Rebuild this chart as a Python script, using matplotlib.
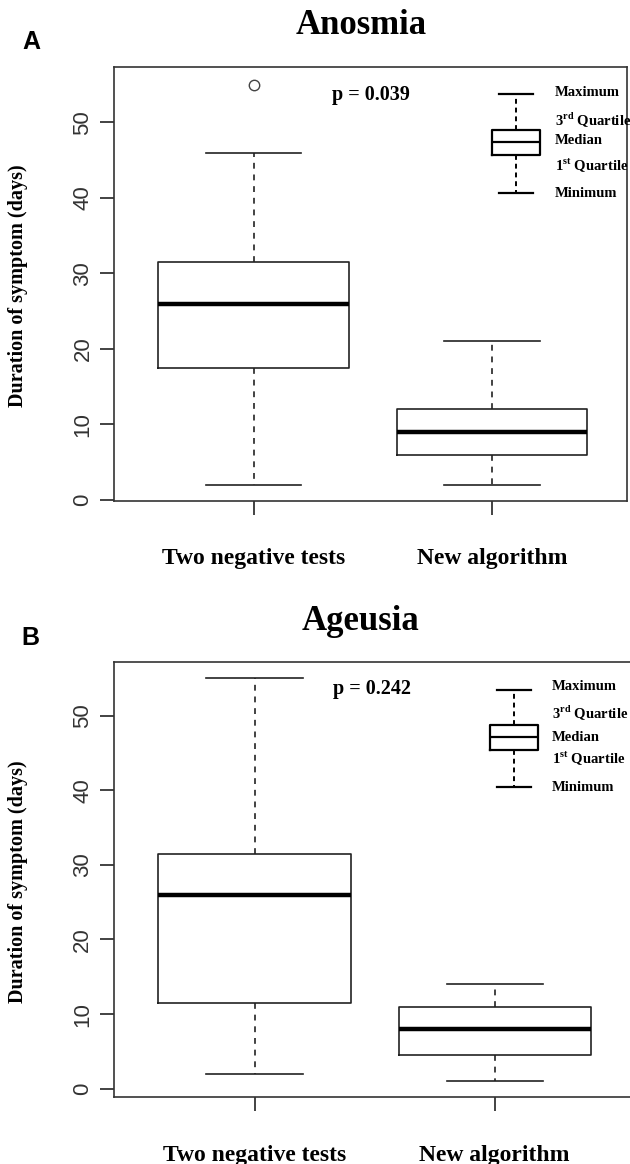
import matplotlib.pyplot as plt

# values (days)
groups = ["Two negative tests", "New algorithm"]

anosmia_min = [2, 2]
anosmia_q1 = [17.5, 6]
anosmia_med = [26, 9]
anosmia_q3 = [31.5, 12]
anosmia_max = [46, 21]
anosmia_fliers = [[55], []]
anosmia_p = "p = 0.039"

ageusia_min = [2, 1]
ageusia_q1 = [11.5, 4.5]
ageusia_med = [26, 8]
ageusia_q3 = [31.5, 11]
ageusia_max = [55, 14]
ageusia_fliers = [[], []]
ageusia_p = "p = 0.242"

# key box drawn in the upper right corner
key_labels = ["Maximum", r"3$^{\mathbf{rd}}$ Quartile", "Median", r"1$^{\mathbf{st}}$ Quartile", "Minimum"]
key_a = [40.6, 45.7, 47.4, 49.0, 53.7]
key_a_text_y = [54.0, 50.3, 47.6, 44.3, 40.6]
key_b = [40.5, 45.4, 47.1, 48.7, 53.5]
key_b_text_y = [53.9, 50.3, 47.1, 44.2, 40.4]

SERIF = "Liberation Serif"
SANS = "Liberation Sans"
plt.rcParams['mathtext.fontset'] = 'custom'
plt.rcParams['mathtext.bf'] = 'Liberation Serif:bold'
plt.rcParams['mathtext.rm'] = 'Liberation Serif:bold'
INK = "#222222"


def make_stats(lo, q1, med, q3, hi, fliers):
    stats = []
    for i in range(len(lo)):
        stats.append(dict(whislo=lo[i], q1=q1[i], med=med[i], q3=q3[i],
                          whishi=hi[i], fliers=fliers[i]))
    return stats


def draw_panel(ax, stats, ylim, pval, key, key_y, key_x, text_x):
    ax.bxp(stats, positions=[1, 2], widths=0.8, capwidths=0.4,
           boxprops=dict(color=INK, linewidth=1.2),
           medianprops=dict(color="black", linewidth=3.2, solid_capstyle="butt"),
           whiskerprops=dict(color=INK, linewidth=1.2, linestyle=(0, (3.5, 3.5))),
           capprops=dict(color=INK, linewidth=1.2),
           flierprops=dict(marker="o", markerfacecolor="none",
                           markeredgecolor="#444444", markersize=7.5, markeredgewidth=1.0))
    # key
    ks = [dict(whislo=key[0], q1=key[1], med=key[2], q3=key[3], whishi=key[4], fliers=[])]
    ax.bxp(ks, positions=[key_x], widths=0.2, capwidths=0.142,
           boxprops=dict(color="black", linewidth=1.6),
           medianprops=dict(color="black", linewidth=1.6),
           whiskerprops=dict(color="black", linewidth=1.4, linestyle=(0, (2.5, 2))),
           capprops=dict(color="black", linewidth=1.6),
           manage_ticks=False)
    for lab, yy in zip(key_labels, key_y):
        ax.text(text_x, yy, lab, family=SERIF, fontweight="bold", fontsize=10.5,
                ha="left", va="center", color="black")

    ax.text(1.49, 53.6, pval, family=SERIF, fontweight="bold", fontsize=14.5,
            ha="center", va="center")

    ax.set_xlim(0.415, 2.565)
    ax.set_ylim(*ylim)
    ax.set_yticks([0, 10, 20, 30, 40, 50])
    ax.set_xticks([1, 2])
    ax.set_xticklabels(groups, family=SERIF, fontweight="bold", fontsize=17)
    for t in ax.get_yticklabels():
        t.set_rotation(90)
        t.set_va("center")
        t.set_family(SANS)
        t.set_fontsize(16)
        t.set_color("#333333")
    ax.tick_params(axis="y", direction="out", length=10, width=1.2, pad=5, color=INK)
    ax.tick_params(axis="x", direction="out", length=10, width=1.2, pad=24, color=INK)
    for sp in ax.spines.values():
        sp.set_color("#333333")
        sp.set_linewidth(1.2)


fig = plt.figure(figsize=(6.3, 11.64), dpi=100)

ax_a = fig.add_axes([0.1814, 0.5697, 0.8133, 0.3725])
draw_panel(ax_a,
           make_stats(anosmia_min, anosmia_q1, anosmia_med, anosmia_q3, anosmia_max, anosmia_fliers),
           (-0.12, 57.3), anosmia_p, key_a, key_a_text_y, 2.102, 2.265)

ax_b = fig.add_axes([0.181, 0.0573, 0.8195, 0.3737])
draw_panel(ax_b,
           make_stats(ageusia_min, ageusia_q1, ageusia_med, ageusia_q3, ageusia_max, ageusia_fliers),
           (-1.16, 57.16), ageusia_p, key_b, key_b_text_y, 2.08, 2.237)
ax_b.spines["right"].set_visible(False)

fig.text(361 / 630, 1 - 25 / 1164, "Anosmia", family=SERIF, fontweight="bold",
         fontsize=25, ha="center", va="center")
fig.text(360 / 630, 1 - 621 / 1164, "Ageusia", family=SERIF, fontweight="bold",
         fontsize=25, ha="center", va="center")
fig.text(31 / 630, 1 - 42 / 1164, "A", family=SANS, fontweight="bold",
         fontsize=18, ha="center", va="center")
fig.text(30 / 630, 1 - 638 / 1164, "B", family=SANS, fontweight="bold",
         fontsize=18, ha="center", va="center")
fig.text(18 / 630, 1 - 286 / 1164, "Duration of symptom (days)", family=SERIF,
         fontweight="bold", fontsize=14.5, rotation=90, ha="center", va="center")
fig.text(18 / 630, 1 - 882 / 1164, "Duration of symptom (days)", family=SERIF,
         fontweight="bold", fontsize=14.5, rotation=90, ha="center", va="center")

fig.savefig("out.png", dpi=100)
